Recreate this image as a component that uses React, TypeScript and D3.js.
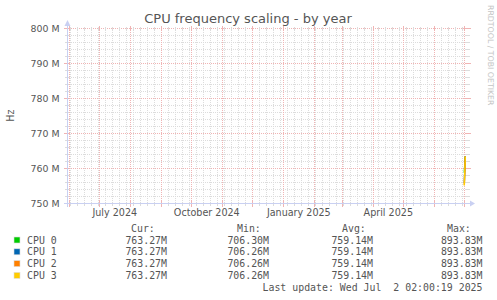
import React from 'react';
import * as d3 from 'd3';

const W = 497;
const H = 300;

const titleText = 'CPU frequency scaling - by year';
const yAxisLabel = 'Hz';
const watermark = 'RRDTOOL / TOBI OETIKER';
const lastUpdate = 'Last update: Wed Jul  2 02:00:19 2025';

const cpuNames = ['CPU 0', 'CPU 1', 'CPU 2', 'CPU 3'];
const cpuColors = ['#00CC00', '#0066B3', '#FF8000', '#FFCC00'];

// daily consolidated samples (only the last days hold data)
const sampleDates = ['2025-07-01', '2025-07-02'];
const cpu0Values = [758.6e6, 763.27e6];
const cpu1Values = [755.8e6, 763.27e6];
const cpu2Values = [755.2e6, 763.27e6];
const cpu3Values = [755.0e6, 763.27e6];
const seriesValues = [cpu0Values, cpu1Values, cpu2Values, cpu3Values];

const legendHeaders = ['Cur:', 'Min:', 'Avg:', 'Max:'];
const curValues = ['763.27M', '763.27M', '763.27M', '763.27M'];
const minValues = ['706.30M', '706.26M', '706.26M', '706.26M'];
const avgValues = ['759.14M', '759.14M', '759.14M', '759.14M'];
const maxValues = ['893.83M', '893.83M', '893.83M', '893.83M'];

const yMajorTicks = [750e6, 760e6, 770e6, 780e6, 790e6, 800e6];
const yTickLabels = ['750 M', '760 M', '770 M', '780 M', '790 M', '800 M'];
const xLabelMonths = ['2024-07-01', '2024-10-01', '2025-01-01', '2025-04-01'];

const DAY = 24 * 3600 * 1000;
const startTime = new Date(Date.UTC(2024, 4, 29, 16, 48));
const endTime = new Date(startTime.getTime() + 400 * DAY);

const PL = 67, PR = 467, PT = 28, PB = 203;

export default function App() {
  const x = d3.scaleUtc().domain([startTime, endTime]).range([PL, PR]);
  const y = d3.scaleLinear().domain([750e6, 800e6]).range([PB, PT]);

  const weeks = d3.utcSunday.range(startTime, endTime);
  const months = d3.utcMonth.range(startTime, endTime);
  const yMinor = d3.range(750e6, 800e6 + 1, 2e6);

  const px = (v: number) => Math.round(v) + 0.5;

  const line = d3
    .line<[Date, number]>()
    .x((d) => x(d[0]))
    .y((d) => y(d[1]));

  const gridGrey = '#DCDCDC';
  const gridRed = '#F0B4B4';
  const axisColor = '#C9D0F2';
  const textColor = '#555555';

  const mono = '"DejaVu Sans Mono", monospace';
  const sans = '"DejaVu Sans", sans-serif';

  const rowsY = [240, 251.8, 263.6, 275.4];
  const headerX = [131, 237, 342, 447];
  const valueEndX = [167, 269, 373, 482.5];
  const valueCols = [curValues, minValues, avgValues, maxValues];

  return (
    <svg
      width={W}
      height={H}
      style={{ position: 'absolute', left: 0, top: 0, background: '#fff' }}
    >
      <rect x={0} y={0} width={W} height={H} fill="#ffffff" />
      {/* minor grid */}
      <g stroke={gridGrey} strokeWidth={1} strokeDasharray="1,1" shapeRendering="crispEdges">
        {weeks.map((d, i) => (
          <line key={'wv' + i} x1={px(x(d))} x2={px(x(d))} y1={PT} y2={PB + 1} />
        ))}
        {yMinor.map((v, i) => (
          <line key={'hm' + i} x1={PL} x2={PR + 1} y1={px(y(v))} y2={px(y(v))} />
        ))}
      </g>
      {/* major grid */}
      <g stroke={gridRed} strokeWidth={1} strokeDasharray="1,1" shapeRendering="crispEdges">
        {months.map((d, i) => (
          <line key={'mv' + i} x1={px(x(d))} x2={px(x(d))} y1={PT} y2={PB + 1} />
        ))}
        {yMajorTicks.map((v, i) => (
          <line key={'hM' + i} x1={PL} x2={PR + 1} y1={px(y(v))} y2={px(y(v))} />
        ))}
      </g>
      {/* ticks */}
      <g strokeWidth={1} shapeRendering="crispEdges">
        {weeks.map((d, i) => (
          <g key={'wt' + i} stroke={gridGrey}>
            <line x1={px(x(d))} x2={px(x(d))} y1={PB - 1} y2={PB + 3} />
            <line x1={px(x(d))} x2={px(x(d))} y1={PT - 1} y2={PT + 2} />
          </g>
        ))}
        {months.map((d, i) => (
          <g key={'mt' + i} stroke={gridRed}>
            <line x1={px(x(d))} x2={px(x(d))} y1={PB - 2} y2={PB + 4} />
            <line x1={px(x(d))} x2={px(x(d))} y1={PT - 2} y2={PT + 3} />
          </g>
        ))}
        {yMinor.map((v, i) => (
          <g key={'yt' + i} stroke={gridGrey}>
            <line x1={PL - 2} x2={PL + 2} y1={px(y(v))} y2={px(y(v))} />
            <line x1={PR - 1} x2={PR + 3} y1={px(y(v))} y2={px(y(v))} />
          </g>
        ))}
        {yMajorTicks.map((v, i) => (
          <g key={'yM' + i} stroke={gridRed}>
            <line x1={PL - 3} x2={PL + 3} y1={px(y(v))} y2={px(y(v))} />
            <line x1={PR - 2} x2={PR + 4} y1={px(y(v))} y2={px(y(v))} />
          </g>
        ))}
      </g>
      {/* axes */}
      <g stroke={axisColor} strokeWidth={1} shapeRendering="crispEdges">
        <line x1={PL + 0.5} x2={PL + 0.5} y1={PB + 4} y2={PT - 4} />
        <line x1={PL - 3} x2={PR + 4} y1={PB + 0.5} y2={PB + 0.5} />
      </g>
      <path d={`M${PL - 2.5},${PT - 2} L${PL + 0.5},${PT - 8} L${PL + 3.5},${PT - 2} Z`} fill={axisColor} />
      <path d={`M${PR + 3},${PB - 2.5} L${PR + 8},${PB + 0.5} L${PR + 3},${PB + 3.5} Z`} fill={axisColor} />

      {/* data lines */}
      {seriesValues.map((vals, i) => (
        <path
          key={'s' + i}
          d={line(vals.map((v, j) => [d3.utcParse('%Y-%m-%d')(sampleDates[j]) as Date, v])) || ''}
          fill="none"
          stroke={cpuColors[i]}
          strokeWidth={1.4}
        />
      ))}

      {/* title */}
      <text x={248} y={18} textAnchor="middle" dominantBaseline="central" fontFamily={sans} fontSize={13} fill={textColor}>
        {titleText}
      </text>
      {/* y tick labels */}
      {yMajorTicks.map((v, i) => (
        <text key={'yl' + i} x={59.5} y={y(v) + 0.5} textAnchor="end" dominantBaseline="central" fontFamily={sans} fontSize={9.4} fill={textColor}>
          {yTickLabels[i]}
        </text>
      ))}
      {/* x labels at mid-month */}
      {xLabelMonths.map((s, i) => {
        const d0 = d3.utcParse('%Y-%m-%d')(s) as Date;
        const d1 = d3.utcMonth.offset(d0, 1);
        const mid = new Date((d0.getTime() + d1.getTime()) / 2);
        return (
          <text key={'xl' + i} x={x(mid)} y={212} textAnchor="middle" dominantBaseline="central" fontFamily={sans} fontSize={9.6} fill={textColor}>
            {d3.utcFormat('%B %Y')(d0)}
          </text>
        );
      })}
      {/* y axis label */}
      <text transform={`translate(10,${(PT + PB) / 2}) rotate(-90)`} textAnchor="middle" dominantBaseline="central" fontFamily={sans} fontSize={9.6} fill={textColor}>
        {yAxisLabel}
      </text>
      {/* watermark */}
      <text transform={`translate(490,5) rotate(90)`} textAnchor="start" dominantBaseline="central" fontFamily={sans} fontSize={7.8} fill="#C4C4C4">
        {watermark}
      </text>

      {/* legend */}
      {legendHeaders.map((h, i) => (
        <text key={'lh' + i} x={headerX[i]} y={228} dominantBaseline="central" fontFamily={mono} fontSize={9.9} fill={textColor} style={{ whiteSpace: 'pre' }}>
          {h}
        </text>
      ))}
      {cpuNames.map((n, i) => (
        <g key={'lr' + i}>
          <rect x={14} y={rowsY[i] - 3} width={6} height={6} fill={cpuColors[i]} stroke="#dddddd" strokeWidth={0.6} />
          <text x={27} y={rowsY[i]} dominantBaseline="central" fontFamily={mono} fontSize={9.9} fill={textColor}>
            {n}
          </text>
          {valueCols.map((col, c) => (
            <text key={'v' + c} x={valueEndX[c]} y={rowsY[i]} textAnchor="end" dominantBaseline="central" fontFamily={mono} fontSize={9.9} fill={textColor}>
              {col[i]}
            </text>
          ))}
        </g>
      ))}
      <text x={482.5} y={287} textAnchor="end" dominantBaseline="central" fontFamily={mono} fontSize={9.9} fill={textColor} style={{ whiteSpace: 'pre' }}>
        {lastUpdate}
      </text>
    </svg>
  );
}
